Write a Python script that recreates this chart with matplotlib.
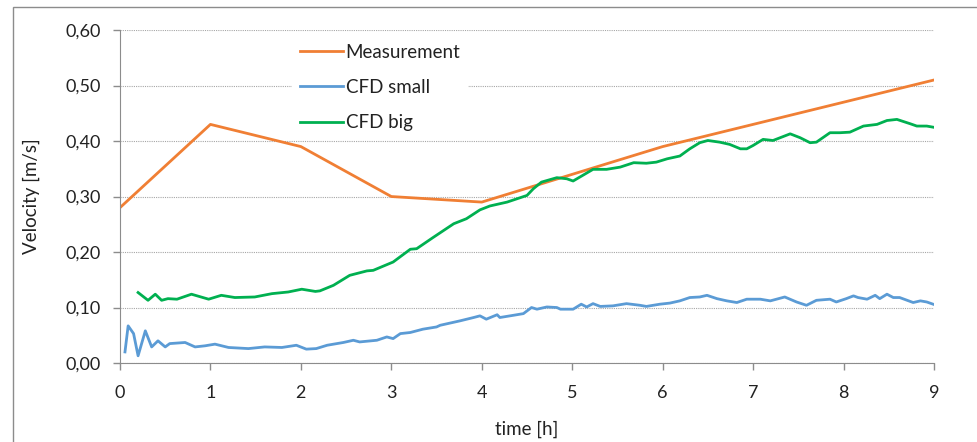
import matplotlib.pyplot as plt
from matplotlib.patches import Rectangle
from matplotlib.ticker import FuncFormatter

plt.rcParams['font.family'] = ['Lato', 'DejaVu Sans']

# Measured velocity, hourly
meas_t = [0, 1, 2, 3, 4, 5, 6, 7, 8, 9]
meas_v = [0.28, 0.43, 0.39, 0.30, 0.29, 0.34, 0.39, 0.43, 0.47, 0.51]

# CFD small model
small_t = [0.055, 0.09, 0.15, 0.20, 0.28, 0.35, 0.42, 0.50, 0.55, 0.72, 0.83, 0.94,
           1.05, 1.20, 1.42, 1.60, 1.79, 1.95, 2.06, 2.17, 2.29, 2.47, 2.58, 2.65,
           2.84, 2.95, 3.02, 3.10, 3.21, 3.35, 3.50, 3.54, 3.76, 3.91, 3.98, 4.05,
           4.17, 4.20, 4.35, 4.46, 4.55, 4.61, 4.72, 4.83, 4.87, 5.01, 5.10, 5.16,
           5.23, 5.31, 5.45, 5.60, 5.75, 5.82, 5.97, 6.08, 6.19, 6.30, 6.41, 6.49,
           6.60, 6.71, 6.82, 6.93, 7.08, 7.19, 7.35, 7.48, 7.59, 7.70, 7.85, 7.92,
           8.03, 8.11, 8.16, 8.26, 8.35, 8.40, 8.48, 8.55, 8.62, 8.77, 8.85, 8.92,
           8.99]
small_v = [0.020, 0.067, 0.053, 0.013, 0.058, 0.029, 0.040, 0.029, 0.035, 0.037,
           0.029, 0.031, 0.034, 0.028, 0.026, 0.029, 0.028, 0.032, 0.025, 0.026,
           0.032, 0.037, 0.041, 0.038, 0.041, 0.047, 0.044, 0.053, 0.055, 0.061,
           0.065, 0.068, 0.076, 0.082, 0.085, 0.079, 0.087, 0.082, 0.086, 0.089,
           0.100, 0.097, 0.101, 0.100, 0.097, 0.097, 0.106, 0.101, 0.107, 0.102,
           0.103, 0.107, 0.104, 0.102, 0.106, 0.108, 0.112, 0.118, 0.119, 0.122,
           0.116, 0.112, 0.109, 0.115, 0.115, 0.112, 0.119, 0.110, 0.104, 0.113,
           0.115, 0.110, 0.116, 0.121, 0.118, 0.115, 0.122, 0.116, 0.124, 0.118,
           0.118, 0.109, 0.112, 0.110, 0.106]

# CFD big model
big_t = [0.20, 0.31, 0.39, 0.46, 0.53, 0.63, 0.79, 0.98, 1.12, 1.27, 1.49, 1.68,
         1.86, 2.01, 2.16, 2.21, 2.36, 2.54, 2.73, 2.80, 3.02, 3.21, 3.28, 3.46,
         3.69, 3.83, 3.98, 4.09, 4.28, 4.50, 4.57, 4.66, 4.83, 4.94, 5.01, 5.23,
         5.38, 5.53, 5.68, 5.82, 5.93, 6.05, 6.19, 6.30, 6.41, 6.50, 6.63, 6.74,
         6.86, 6.93, 7.00, 7.11, 7.22, 7.41, 7.52, 7.63, 7.70, 7.85, 7.96, 8.07,
         8.22, 8.37, 8.48, 8.59, 8.74, 8.81, 8.92, 8.99]
big_v = [0.127, 0.113, 0.124, 0.113, 0.116, 0.115, 0.124, 0.115, 0.122, 0.118,
         0.119, 0.125, 0.128, 0.133, 0.129, 0.130, 0.140, 0.158, 0.166, 0.167,
         0.182, 0.205, 0.206, 0.226, 0.251, 0.260, 0.276, 0.283, 0.290, 0.302,
         0.314, 0.326, 0.334, 0.332, 0.328, 0.349, 0.349, 0.353, 0.361, 0.360,
         0.362, 0.368, 0.373, 0.386, 0.397, 0.401, 0.398, 0.394, 0.386, 0.386,
         0.392, 0.403, 0.401, 0.413, 0.406, 0.397, 0.398, 0.415, 0.415, 0.416,
         0.427, 0.430, 0.437, 0.439, 0.431, 0.427, 0.427, 0.425]

fig = plt.figure(figsize=(9.78, 4.42), dpi=100)
ax = fig.add_axes([0.1227, 0.1787, 0.8323, 0.7533])

# outer chart border (right and bottom edges fall outside the image)
fig.patches.append(Rectangle((13 / 978, -0.05), 1.0, 1 - 7 / 442 + 0.05,
                             transform=fig.transFigure, fill=False,
                             edgecolor='#8c8c8c', linewidth=1.0))

ax.plot(meas_t, meas_v, color='#F07F34', lw=2.0, label='Measurement')
ax.plot(small_t, small_v, color='#5B9BD5', lw=2.0, label='CFD small')
ax.plot(big_t, big_v, color='#00B050', lw=2.0, label='CFD big')

ax.set_xlim(0, 9)
ax.set_ylim(0, 0.6)
ax.set_xticks(range(10))
ax.set_yticks([0, 0.1, 0.2, 0.3, 0.4, 0.5, 0.6])
ax.yaxis.set_major_formatter(FuncFormatter(lambda v, p: f'{v:.2f}'.replace('.', ',')))

ax.grid(axis='y', color='#a6a6a6', linestyle=(0, (1, 1)), linewidth=0.8)
ax.set_axisbelow(True)
for s in ['top', 'right']:
    ax.spines[s].set_visible(False)
for s in ['left', 'bottom']:
    ax.spines[s].set_color('#8c8c8c')
ax.tick_params(axis='both', colors='#8c8c8c', labelcolor='#222222',
               labelsize=13, length=5, width=1)
ax.tick_params(axis='x', pad=11)
ax.tick_params(axis='y', pad=9)

ax.set_xlabel('time [h]', fontsize=13.5, color='#222222', labelpad=14)
ax.set_ylabel('Velocity [m/s]', fontsize=13.5, color='#222222', labelpad=18)

leg = ax.legend(loc='upper left', bbox_to_anchor=(0.2, 1.01), fontsize=13.5,
                frameon=True, facecolor='white', edgecolor='none', framealpha=1,
                handlelength=2.3, handletextpad=0.15, labelspacing=0.98,
                borderpad=0.4, fancybox=False)
for t in leg.get_texts():
    t.set_color('#222222')

fig.savefig('out.png', dpi=100)
